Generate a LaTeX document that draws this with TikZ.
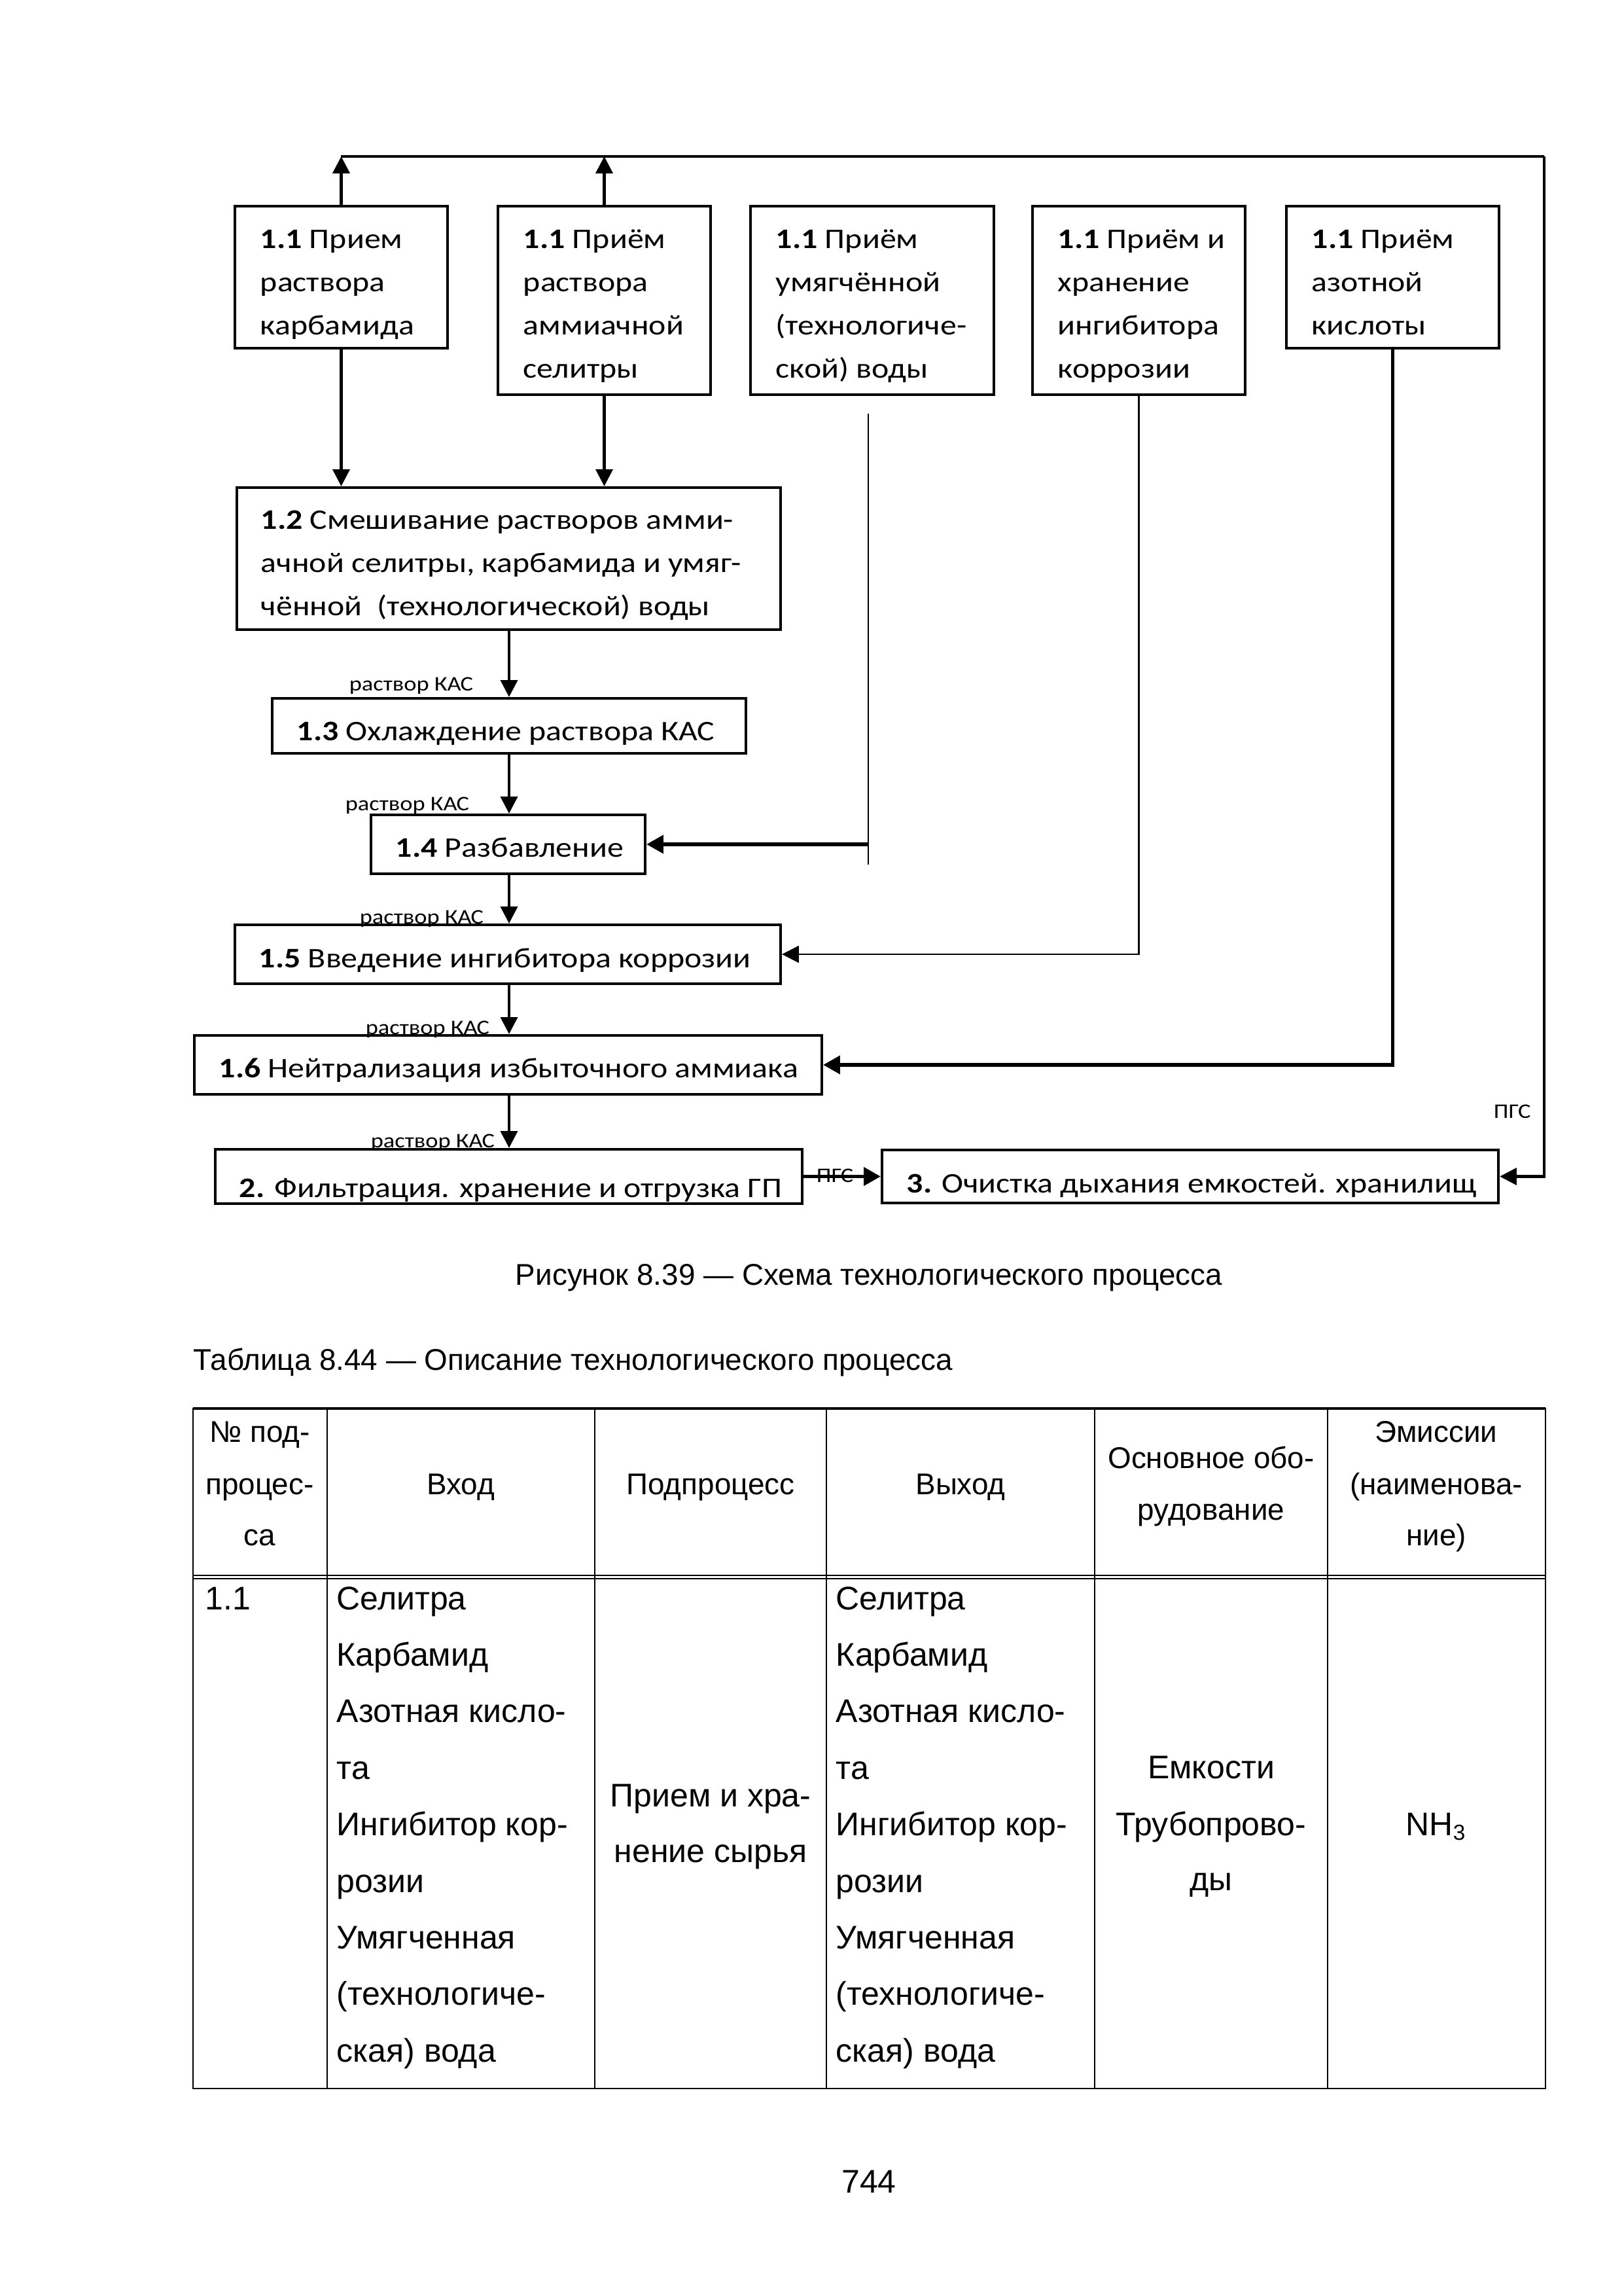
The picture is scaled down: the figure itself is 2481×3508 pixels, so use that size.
\documentclass[tikz,border=0pt]{standalone}
\usepackage{fontspec}
\setmainfont{Liberation Sans}
\newfontfamily\dg[FakeStretch=1.15]{Carlito}
\usetikzlibrary{arrows.meta,fit}
\begin{document}
\begin{tikzpicture}[x=0.24pt,y=-0.24pt,
  box/.style={draw,line width=1pt,inner sep=0pt},
  ln/.style={line width=0.9pt},
  lnthin/.style={line width=0.7pt},
  arr/.style={-{Triangle[length=6.2pt,width=6.2pt]},line width=1pt},
  arrthin/.style={-{Triangle[length=6.2pt,width=6.2pt]},line width=0.7pt},
  arrthick/.style={-{Triangle[length=6.2pt,width=6.6pt]},line width=1.3pt},
  dt/.style={anchor=base west,inner sep=0pt,font=\dg\fontsize{10.4}{12}\selectfont},
  lab/.style={inner sep=0pt,font=\dg\fontsize{7.6}{9}\selectfont},
  tl/.style={line width=0.6pt},
  th/.style={anchor=base,inner sep=0pt,font=\fontsize{11}{13}\selectfont},
  td/.style={anchor=base west,inner sep=0pt,font=\fontsize{12}{14}\selectfont},
  tdc/.style={anchor=base,inner sep=0pt,font=\fontsize{12}{14}\selectfont},
  captxt/.style={inner sep=0pt,font=\fontsize{11}{13}\selectfont},
  pgtxt/.style={inner sep=0pt,font=\fontsize{12}{14}\selectfont}]
\path[use as bounding box,fill=white] (0,0) rectangle (2481,3508);

% ---------- boxes ----------
\node[box,fit={(359,315) (684,532)}] (B1) {};
\node[box,fit={(761,315) (1086,603)}] (B2) {};
\node[box,fit={(1147,315) (1519,603)}] (B3) {};
\node[box,fit={(1578,315) (1903,603)}] (B4) {};
\node[box,fit={(1966,315) (2291,532)}] (B5) {};
\node[box,fit={(362,745) (1193,962)}] (B12) {};
\node[box,fit={(416,1067) (1140,1151)}] (B13) {};
\node[box,fit={(567,1245) (986,1335)}] (B14) {};
\node[box,fit={(359,1413) (1193,1503)}] (B15) {};
\node[box,fit={(297,1582) (1256,1672)}] (B16) {};
\node[box,fit={(329,1756) (1226,1839)}] (B2f) {};
\node[box,fit={(1348,1757) (2290,1838)}] (B3c) {};

% ---------- box texts ----------
\foreach \t [count=\i] in {{\textbf{1.1} Прием},{раствора},{карбамида}}
  \node[dt,name=tA\i] at (397,{380+66*(\i-1)}) {\t};
\foreach \t [count=\i] in {{\textbf{1.1} Приём},{раствора},{аммиачной},{селитры}}
  \node[dt,name=tB\i] at (799,{380+66*(\i-1)}) {\t};
\foreach \t [count=\i] in {{\textbf{1.1} Приём},{умягчённой},{(технологиче-},{ской) воды}}
  \node[dt,name=tC\i] at (1185,{380+66*(\i-1)}) {\t};
\foreach \t [count=\i] in {{\textbf{1.1} Приём и},{хранение},{ингибитора},{коррозии}}
  \node[dt,name=tD\i] at (1616,{380+66*(\i-1)}) {\t};
\foreach \t [count=\i] in {{\textbf{1.1} Приём},{азотной},{кислоты}}
  \node[dt,name=tE\i] at (2004,{380+66*(\i-1)}) {\t};
\foreach \t [count=\i] in {{\textbf{1.2} Смешивание растворов амми-},{ачной селитры, карбамида и умяг-},{чённой\ \ (технологической) воды}}
  \node[dt,name=tF\i] at (398,{809+66*(\i-1)}) {\t};
\node[dt] (tG) at (453,1131) {\textbf{1.3} Охлаждение раствора КАС};
\node[dt] (tH) at (604,1309) {\textbf{1.4} Разбавление};
\node[dt] (tI) at (395,1478) {\textbf{1.5} Введение ингибитора коррозии};
\node[dt] (tJ) at (334,1646) {\textbf{1.6} Нейтрализация избыточного аммиака};
\node[dt] (tK) at (365,1829) {\textbf{2.} Фильтрация. хранение и отгрузка ГП};
\node[dt] (tL) at (1385,1822) {\textbf{3.} Очистка дыхания емкостей. хранилищ};

% ---------- connectors ----------
\coordinate (TL) at (521,239);
\coordinate (TR) at (2360,239);
\draw[ln] (TL) -- (TR);
\draw[arr] (TR) |- (B3c.east);
\draw[arr] (B1.north) -- (B1.north |- TL);
\draw[arr] (B2.north) -- (B2.north |- TL);
\draw[arr] (B1.south) -- (B1.south |- B12.north);
\draw[arr] (B2.south) -- (B2.south |- B12.north);
\coordinate (W1) at (1327,632);
\coordinate (W2) at (1327,1321);
\draw[lnthin] (W1) -- (W2);
\draw[arrthick] (W1 |- B14.east) -- (B14.east);
\draw[arrthin] (B4.south) |- (B15.east);
\draw[arrthick] (B5.south) |- (B16.east);
\coordinate (CX) at (778,0);
\draw[arr] (B12.south -| CX) -- (B13.north -| CX);
\draw[arr] (B13.south -| CX) -- (B14.north -| CX);
\draw[arr] (B14.south -| CX) -- (B15.north -| CX);
\draw[arr] (B15.south -| CX) -- (B16.north -| CX);
\draw[arr] (B16.south -| CX) -- (B2f.north -| CX);
\draw[arrthick] (B2f.east) -- (B3c.west);

% ---------- connector labels ----------
\node[lab,anchor=base east] (L1) at (724,1055) {раствор КАС};
\node[lab,anchor=base east] (L2) at (718,1238) {раствор КАС};
\node[lab,anchor=base east] (L3) at (740,1411) {раствор КАС};
\node[lab,anchor=base east] (L4) at (749,1580) {раствор КАС};
\node[lab,anchor=base east] (L5) at (757,1753) {раствор КАС};
\node[lab,anchor=base west] (L6) at (2282,1708) {ПГС};
\node[lab,anchor=base west] (L7) at (1247,1806) {ПГС};

% ---------- captions ----------
\node[captxt,anchor=base] (cap1) at (1328,1963) {Рисунок 8.39 — Схема технологического процесса};
\node[captxt,anchor=base west] (cap2) at (295,2093) {Таблица 8.44 — Описание технологического процесса};
\node[pgtxt,anchor=base] (pgno) at (1328,3350) {744};

% ---------- table ----------
\draw[tl] (295,2152) rectangle (2362,3191);
\draw[line width=0.8pt] (295,2152) -- (2362,2152);
\foreach \x in {500,909,1263,1673,2029} \draw[tl] (\x,2152) -- (\x,3191);
\draw[tl] (295,2407) -- (2362,2407);
\draw[tl] (295,2412) -- (2362,2412);

\node[th] (h1a) at (397,2203) {№ под-};
\node[th] (h1b) at (397,2283) {процес-};
\node[th] (h1c) at (397,2361) {са};
\node[th] (h2) at (704,2283) {Вход};
\node[th] (h3) at (1086,2283) {Подпроцесс};
\node[th] (h4) at (1468,2283) {Выход};
\node[th] (h5a) at (1851,2243) {Основное обо-};
\node[th] (h5b) at (1851,2322) {рудование};
\node[th] (h6a) at (2195,2203) {Эмиссии};
\node[th] (h6b) at (2195,2283) {(наименова-};
\node[th] (h6c) at (2195,2361) {ние)};

\node[td] (d1) at (313,2459) {1.1};
\foreach \t [count=\i] in {{Селитра},{Карбамид},{Азотная кисло-},{та},{Ингибитор кор-},{розии},{Умягченная},{(технологиче-},{ская) вода}}
  {\node[td,name=dIn\i] at (514,{2459+86.4*(\i-1)}) {\t};
   \node[td,name=dOut\i] at (1277,{2459+86.4*(\i-1)}) {\t};}
\node[tdc] (d3a) at (1086,2760) {Прием и хра-};
\node[tdc] (d3b) at (1086,2845) {нение сырья};
\node[tdc] (d5a) at (1851,2717) {Емкости};
\node[tdc] (d5b) at (1851,2804) {Трубопрово-};
\node[tdc] (d5c) at (1851,2888) {ды};
\node[tdc] (d6) at (2195,2804) {NH\textsubscript{3}};
\end{tikzpicture}
\end{document}
